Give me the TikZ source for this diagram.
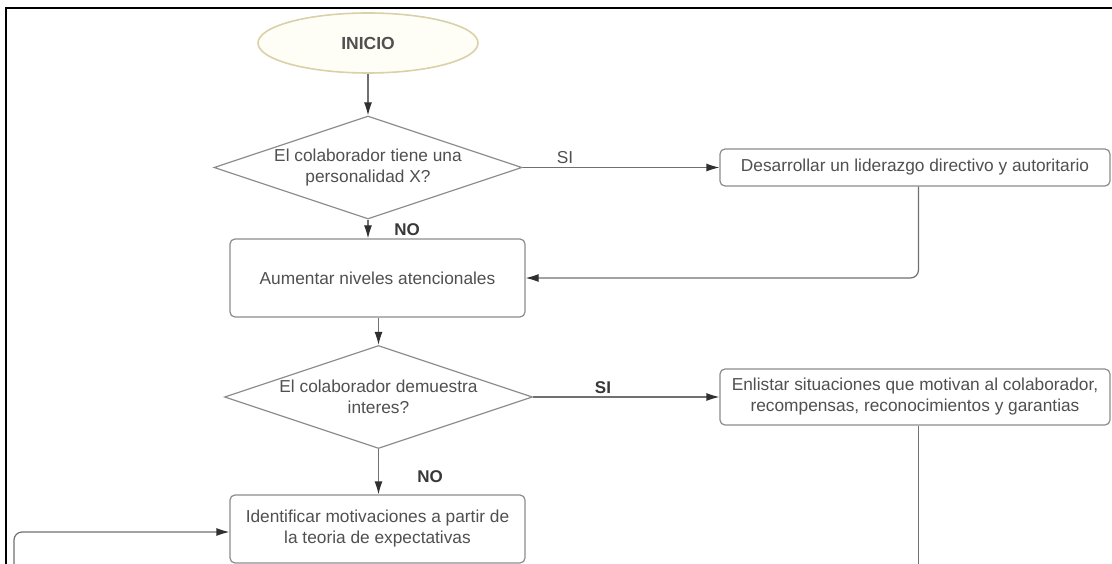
\documentclass[tikz,border=0pt]{standalone}
\usepackage{fontspec}
\setmainfont{Liberation Sans}
\usetikzlibrary{shapes.geometric,arrows.meta}
\definecolor{txt}{HTML}{505050}
\definecolor{edgec}{HTML}{8C8C8C}
\definecolor{connc}{HTML}{707070}
\definecolor{tipc}{HTML}{303030}
\definecolor{labc}{HTML}{383838}
\definecolor{startfill}{HTML}{FFFEF6}
\definecolor{startdraw}{HTML}{D9D1A8}
\begin{document}
\begin{tikzpicture}[x=1pt,y=-1pt,
  every node/.style={font=\fontsize{17.3}{21}\selectfont, text=txt},
  startnode/.style={ellipse, draw=startdraw, fill=startfill, line width=1.6pt,
    minimum width=220pt, minimum height=60pt, inner sep=0pt,
    font=\fontsize{17.5}{21}\selectfont\bfseries},
  decision/.style={diamond, aspect=3, draw=edgec, fill=white, line width=1.2pt,
    minimum width=308pt, minimum height=103pt, inner sep=0pt, align=center},
  process/.style={rectangle, rounded corners=5pt, draw=edgec, fill=white,
    line width=1.2pt, inner sep=0pt, align=center},
  conn/.style={draw=connc, line width=1.2pt,
    -{Latex[length=13pt,width=8pt,color=tipc]}},
  plainline/.style={draw=connc, line width=1.2pt},
  lab/.style={inner sep=0pt},
  boldlab/.style={inner sep=0pt, text=labc, font=\fontsize{17}{21}\selectfont\bfseries},
  frame/.style={line width=2.5pt, draw=black}
]
\useasboundingbox (0,0) rectangle (1112,564);

% frame
\draw[frame] (6,566) -- (6,8) -- (1112,8);

% nodes
\node[startnode] (inicio) at (368,43) {INICIO};
\node[decision] (d1) at (368,167.5) {El colaborador tiene una\\personalidad X?};
\node[process, minimum width=390pt, minimum height=37pt] (desa) at (915,167.5)
  {Desarrollar un liderazgo directivo y autoritario};
\node[process, minimum width=295pt, minimum height=78pt] (aum) at (377.5,278)
  {Aumentar niveles atencionales};
\node[decision] (d2) at (378.5,397) {El colaborador demuestra\\interes?};
\node[process, minimum width=390pt, minimum height=56pt] (enl) at (915,397)
  {Enlistar situaciones que motivan al colaborador,\\recompensas, reconocimientos y garantias};
\node[process, minimum width=295pt, minimum height=68pt] (ident) at (377.5,529)
  {Identificar motivaciones a partir de\\la teoria de expectativas};

% free ends
\coordinate (enlEnd) at (918.5,570);
\coordinate (loopStart) at (14,570);

% connectors
\draw[conn] (inicio.south) -- (d1.north);
\draw[conn] (d1.south) -- (d1.south |- aum.north);
\draw[conn] (d1.east) -- (desa.west);
\draw[conn, rounded corners=8pt] ([xshift=3.5pt]desa.south) |- (aum.east);
\draw[conn] (aum.south -| d2.north) -- (d2.north);
\draw[conn] (d2.east) -- (enl.west);
\draw[conn] (d2.south) -- (d2.south |- ident.north);
\draw[plainline] ([xshift=3.5pt]enl.south) -- (enlEnd);
\draw[conn, rounded corners=8pt] (loopStart) |- ([yshift=-3pt]ident.west);

% labels
\node[lab] (si1) at (565,158) {SI};
\node[boldlab] (no1) at (407,230) {NO};
\node[boldlab] (si2) at (603,388) {SI};
\node[boldlab] (no2) at (430,477) {NO};
\end{tikzpicture}
\end{document}
